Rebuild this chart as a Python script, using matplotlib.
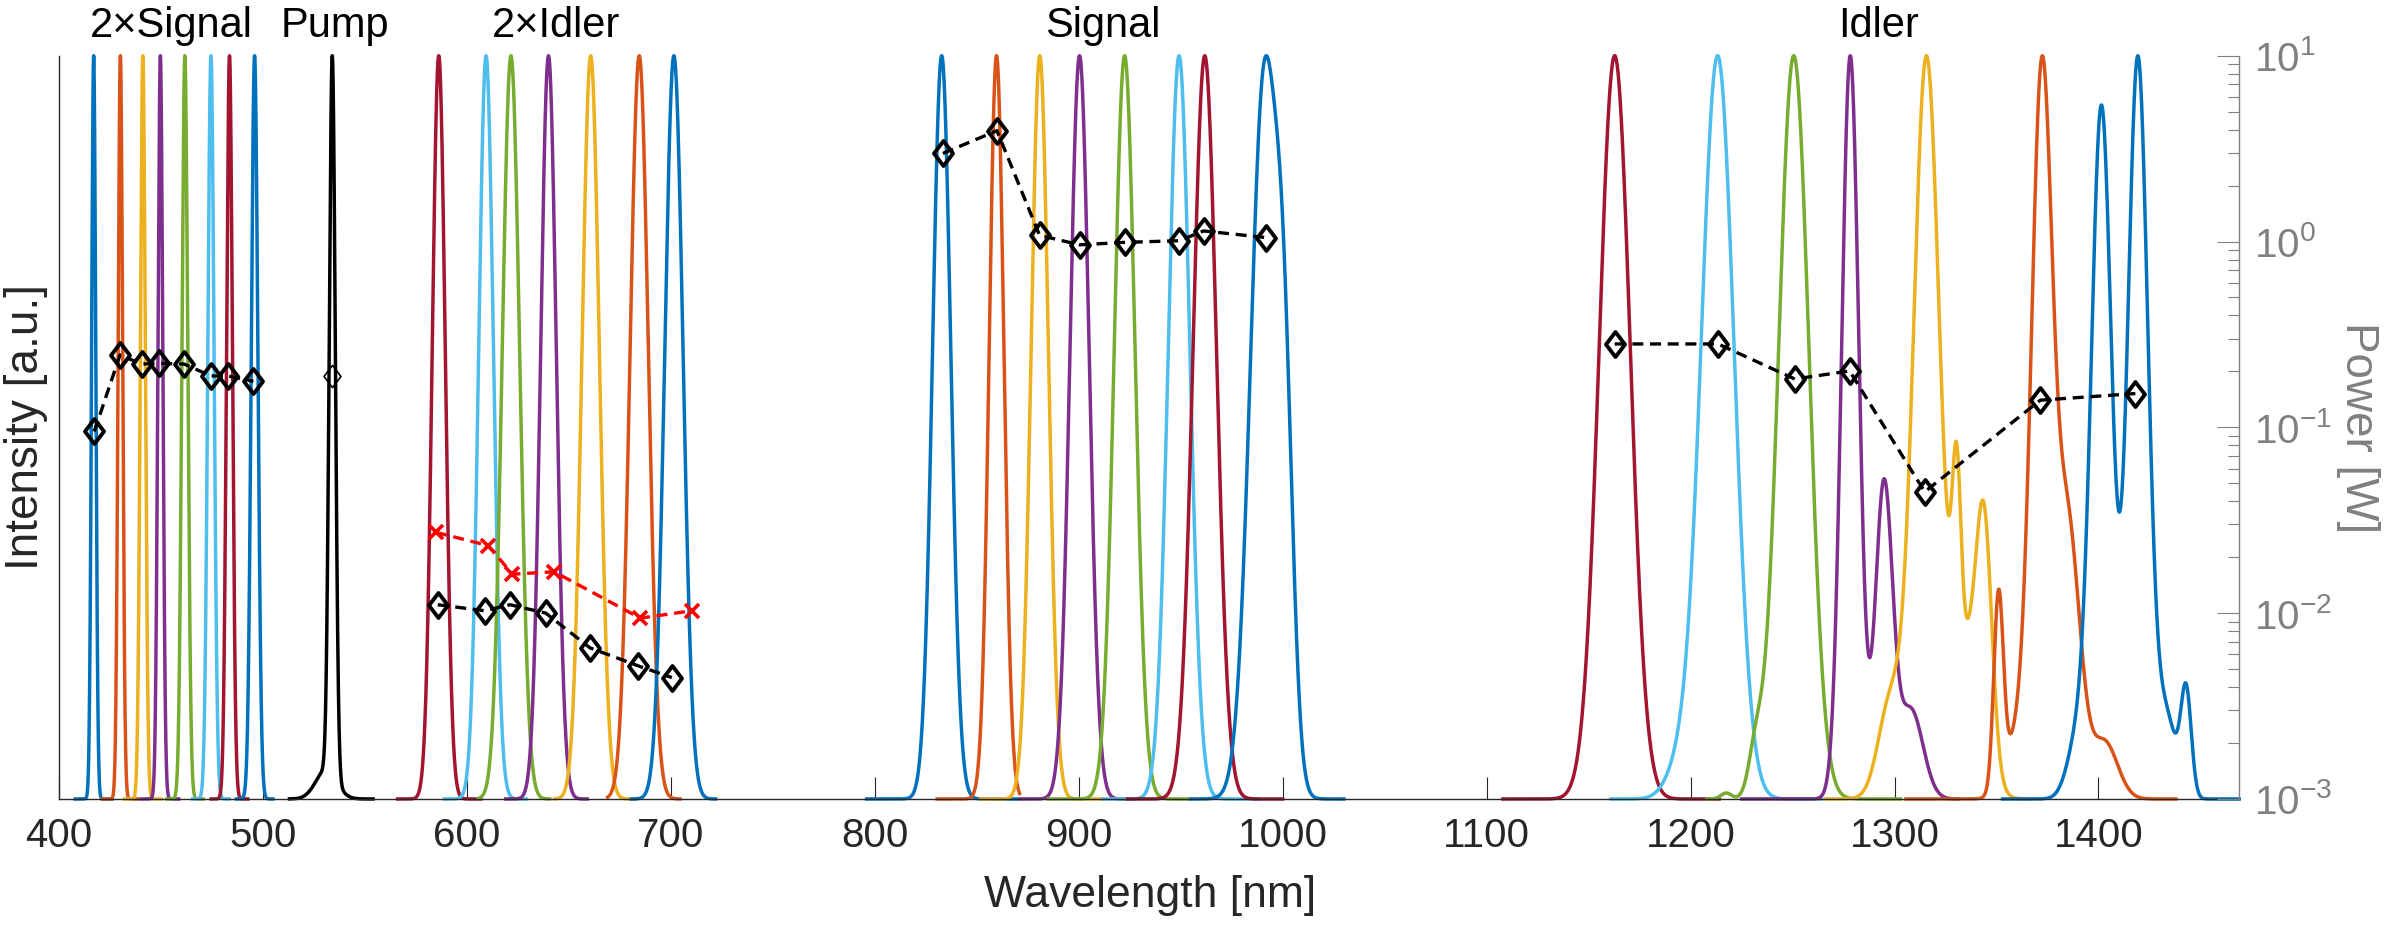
import numpy as np
import matplotlib.pyplot as plt
from matplotlib.path import Path

plt.rcParams['font.family'] = ['Liberation Sans', 'DejaVu Sans']
plt.rcParams['axes.unicode_minus'] = False

# MATLAB default colour order
mcol = ['#0072BD', '#D95319', '#EDB120', '#7E2F8E', '#77AC30', '#4DBEEE', '#A2142F']
gray = '#808080'
dark = '#262626'

# ---- spectra (peak centre nm, FWHM nm, relative height)
sig2_center = [417.0, 430.1, 441.1, 449.7, 461.7, 474.5, 483.6, 495.9]
sig2_fwhm = [2.4, 2.6, 2.9, 2.8, 3.4, 3.6, 3.4, 3.8]
sig2_color = [0, 1, 2, 3, 4, 5, 6, 0]

pump_peaks = [(534.0, 3.5, 1.0), (531.0, 12.0, 0.04)]
pump_range = (513, 554)

idl2_center = [586.2, 609.4, 621.6, 640.0, 660.7, 684.5, 701.5]
idl2_fwhm = [7.5, 8.5, 10, 9, 10, 10.5, 10.5]
idl2_lo = [566, 589, 605.5, 619, 643, 669, 680.7]
idl2_hi = [606.8, 629, 640.6, 659, 682, 704.5, 722]
idl2_color = [6, 5, 4, 3, 2, 1, 0]

sig_peaks = [
    [(832.8, 10.5, 1.0)],
    [(859.7, 8.5, 1.0)],
    [(880.9, 10, 1.0)],
    [(900.4, 11, 1.0)],
    [(922.5, 12, 1.0)],
    [(949.2, 12.5, 1.0)],
    [(961.8, 13.5, 1.0)],
    [(991.0, 16, 1.0), (1001.0, 10, 0.4)],
]
sig_lo = [796, 830.6, 851.8, 871.4, 885, 912, 924, 955]
sig_hi = [870, 871, 911.5, 924, 954, 987.7, 1000, 1030]
sig_color = [0, 1, 2, 3, 4, 5, 6, 0]

idl_peaks = [
    [(1162.8, 18, 1.0)],
    [(1213.3, 19, 1.0), (1195, 16, 0.04)],
    [(1250.6, 17.5, 1.0), (1232, 8, 0.06), (1217.5, 6, 0.008)],
    [(1278.3, 10, 1.0), (1294.8, 10, 0.42), (1308, 14, 0.12)],
    [(1315.6, 15, 1.0), (1330.4, 5, 0.25), (1344.0, 9, 0.3), (1335, 18, 0.2), (1298, 14, 0.13)],
    [(1372.2, 12, 1.0), (1385, 14, 0.38), (1403, 15, 0.08), (1351, 5.5, 0.27), (1360, 14, 0.08)],
    [(1401.5, 11.7, 0.93), (1419.3, 11.7, 1.0), (1433, 12, 0.11), (1443, 6, 0.14), (1390, 12, 0.08)],
]
idl_lo = [1108, 1161, 1208, 1225, 1266, 1305.6, 1353]
idl_hi = [1214, 1264, 1303, 1331, 1367, 1438, 1469]
idl_color = [6, 5, 4, 3, 2, 1, 0]

# ---- measured powers [W]
sig2_wl = [417.3, 429.9, 440.6, 449.2, 461.4, 474.5, 483.0, 495.3]
sig2_pw = [0.095, 0.245, 0.219, 0.221, 0.219, 0.189, 0.189, 0.177]
pump_wl = [533.9]
pump_pw = [0.189]
idl2_wl = [585.7, 608.9, 621.2, 638.7, 660.4, 684.1, 700.5]
idl2_pw = [0.0111, 0.0103, 0.0111, 0.0100, 0.0065, 0.0052, 0.0045]
idl2x_wl = [584.9, 610.5, 622.3, 642.8, 685.0, 710.3]
idl2x_pw = [0.0272, 0.0231, 0.0162, 0.0167, 0.0094, 0.0103]
sig_wl = [833.4, 859.9, 880.8, 900.4, 922.8, 949.4, 961.2, 992.0]
sig_pw = [2.98, 3.95, 1.08, 0.96, 0.99, 1.01, 1.14, 1.05]
idl_wl = [1162.8, 1213.5, 1251.1, 1278.0, 1314.8, 1371.5, 1418.1]
idl_pw = [0.281, 0.281, 0.182, 0.201, 0.045, 0.140, 0.152]

# region labels
group_names = ['2\u00d7Signal', 'Pump', '2\u00d7Idler', 'Signal', 'Idler']
group_x = [455.2, 535.5, 643.5, 912, 1292]


def spectrum(peaks, lo, hi):
    x = np.linspace(lo, hi, 1000)
    y = np.zeros_like(x)
    for c, w, a in peaks:
        y += a * np.exp(-4 * np.log(2) * (x - c) ** 2 / w ** 2)
    return x, y / y.max()


fig = plt.figure(figsize=(23.84, 9.30), dpi=100)
ax = fig.add_axes([0.02475, 0.1409, 0.9145, 0.7992])

lw = 2.5
for c, w, k in zip(sig2_center, sig2_fwhm, sig2_color):
    x, y = spectrum([(c, w, 1.0)], c - 9, c + 9)
    ax.plot(x, y, color=mcol[k], lw=lw, clip_on=False)

x, y = spectrum(pump_peaks, *pump_range)
ax.plot(x, y, color='k', lw=lw, clip_on=False)

for c, w, lo, hi, k in zip(idl2_center, idl2_fwhm, idl2_lo, idl2_hi, idl2_color):
    x, y = spectrum([(c, w, 1.0)], lo, hi)
    ax.plot(x, y, color=mcol[k], lw=lw, clip_on=False)

for p, lo, hi, k in zip(sig_peaks, sig_lo, sig_hi, sig_color):
    x, y = spectrum(p, lo, hi)
    ax.plot(x, y, color=mcol[k], lw=lw, clip_on=False)

for p, lo, hi, k in zip(idl_peaks, idl_lo, idl_hi, idl_color):
    x, y = spectrum(p, lo, hi)
    ax.plot(x, y, color=mcol[k], lw=lw, clip_on=False)

ax.set_xlim(400, 1469)
ax.set_ylim(0, 1)
ax.set_yticks([])
ax.set_xticks(np.arange(400, 1401, 100))
ax.tick_params(axis='x', direction='in', length=15.7, width=0.8, labelsize=29,
               pad=13, colors=dark)
for s in ['top', 'right']:
    ax.spines[s].set_visible(False)
for s in ['left', 'bottom']:
    ax.spines[s].set_color(dark)
    ax.spines[s].set_linewidth(1.0)

# right log axis with the powers
ax2 = ax.twinx()
ax2.set_yscale('log')
ax2.set_ylim(1e-3, 10)
for s in ['top', 'left', 'bottom']:
    ax2.spines[s].set_visible(False)
ax2.spines['right'].set_color(gray)
ax2.spines['right'].set_linewidth(1.0)
ax2.tick_params(axis='y', which='major', direction='in', length=15.7, width=0.8,
                colors=gray, labelsize=29, pad=11)
ax2.tick_params(axis='y', which='minor', direction='in', length=7.7, width=0.8,
                colors=gray)

diamond = Path([(0, 1), (0.76, 0), (0, -1), (-0.76, 0), (0, 1)],
               [Path.MOVETO, Path.LINETO, Path.LINETO, Path.LINETO, Path.CLOSEPOLY])
dash = (0, (3.3, 2.0))
mk = dict(marker=diamond, ms=18, mew=2.8, mfc='none', mec='k')
ax2.plot(sig2_wl, sig2_pw, ls=dash, color='k', lw=2.4, **mk)
ax2.plot(idl2_wl, idl2_pw, ls=dash, color='k', lw=2.4, **mk)
ax2.plot(sig_wl, sig_pw, ls=dash, color='k', lw=2.4, **mk)
ax2.plot(idl_wl, idl_pw, ls=dash, color='k', lw=2.4, **mk)
ax2.plot(idl2x_wl, idl2x_pw, ls=dash, color='#FF0000', lw=2.4,
         marker='x', ms=10, mew=2.6)
ax2.plot(pump_wl, pump_pw, ls='none', marker=diamond, ms=16, mew=1.2,
         mfc='none', mec='k')

for name, gx in zip(group_names, group_x):
    ax.text(gx, 1.0258, name, transform=ax.get_xaxis_transform(), ha='center',
            va='baseline', fontsize=30, color='k')

ax.text(0.5005, -0.1305, 'Wavelength [nm]', transform=ax.transAxes, ha='center',
        va='center', fontsize=32, color=dark)
ax.text(-0.0153, 0.5, 'Intensity [a.u.]', transform=ax.transAxes, ha='center',
        va='center', rotation=90, fontsize=33, color=dark)
ax.text(1.0546, 0.5, 'Power [W]', transform=ax.transAxes, ha='center',
        va='center', rotation=270, fontsize=33, color=gray)

fig.savefig('out.png', dpi=100)
